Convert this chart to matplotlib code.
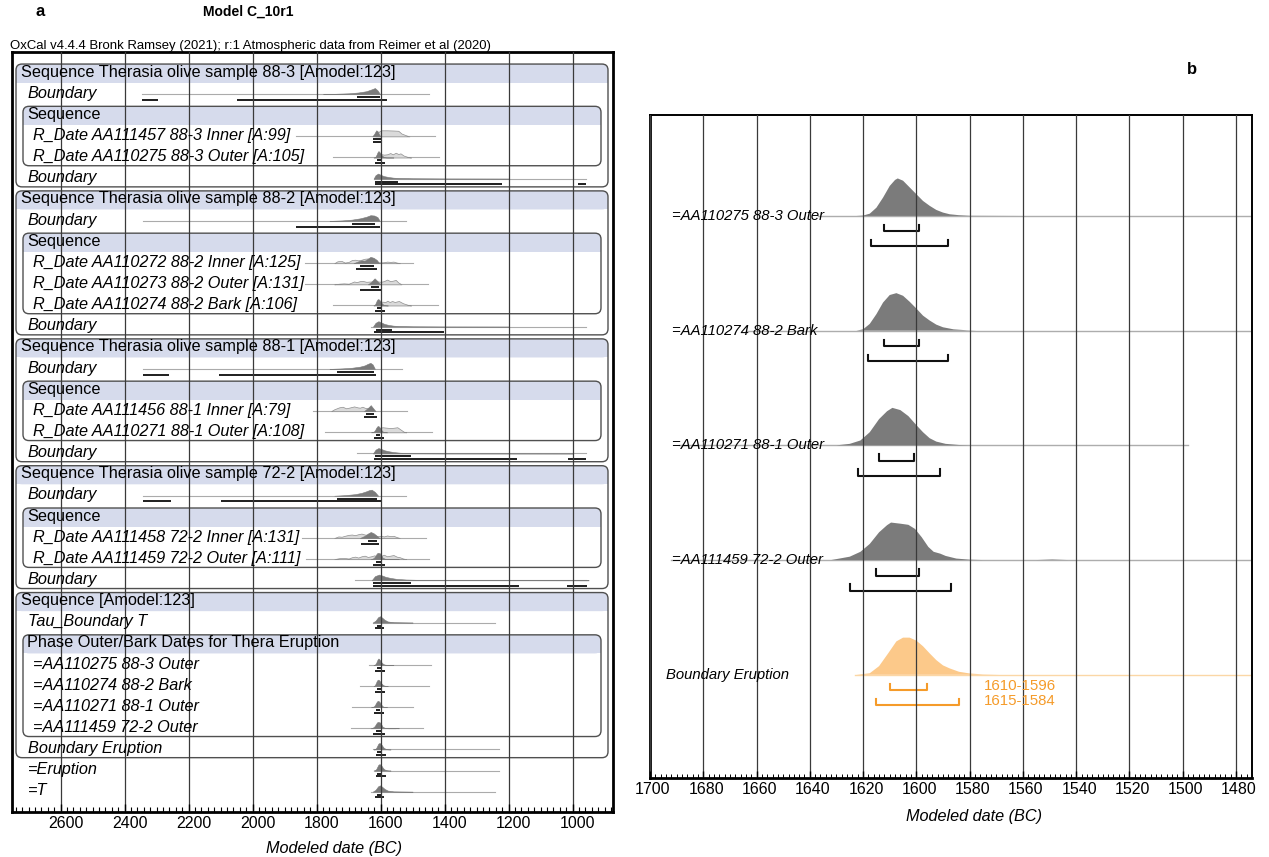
"""OxCal model C_10r1: Therasia olive sequences and the Thera eruption boundary."""
import matplotlib
matplotlib.use("Agg")
import matplotlib.pyplot as plt
import numpy as np
from matplotlib.patches import FancyBboxPatch, Rectangle
from matplotlib.ticker import MultipleLocator
from matplotlib.transforms import ScaledTranslation

plt.rcParams["font.family"] = ["Liberation Sans", "DejaVu Sans"]

# ---------------------------------------------------------------- data
# posterior densities (peak ~ 1), years BC
OUT_883_YR = [1622.5, 1620, 1617.5, 1615, 1612.5, 1610, 1608, 1607, 1605, 1602.5, 1600, 1597.5,
              1595, 1592.5, 1590, 1587.5, 1584, 1580, 1560]
OUT_883_P = [0, 0.01, 0.06, 0.22, 0.49, 0.80, 0.96, 1.0, 0.94, 0.76, 0.58, 0.40,
             0.27, 0.16, 0.09, 0.045, 0.02, 0.005, 0]
BARK_882_YR = [1622.5, 1620, 1617.5, 1615, 1612.5, 1610, 1607.5, 1605, 1602.5, 1600, 1597.5, 1595,
               1592.5, 1590, 1586, 1581, 1577.5]
BARK_882_P = [0, 0.035, 0.18, 0.44, 0.75, 0.95, 1.0, 0.93, 0.77, 0.59, 0.40, 0.27,
              0.16, 0.09, 0.035, 0.01, 0]
OUT_881_YR = [1630, 1625, 1621, 1617.5, 1614, 1611, 1609, 1606, 1603, 1600, 1597.5, 1595,
              1592.5, 1589, 1584, 1580]
OUT_881_P = [0, 0.04, 0.13, 0.35, 0.70, 0.91, 1.0, 0.94, 0.78, 0.54, 0.35, 0.19,
             0.10, 0.04, 0.01, 0]
OUT_722_YR = [1632, 1625, 1621, 1617.5, 1614, 1611, 1609.5, 1606, 1603, 1600.5, 1598, 1595.5,
              1593.5, 1591, 1589, 1585, 1580, 1575, 1555, 1549, 1543]
OUT_722_P = [0, 0.09, 0.22, 0.43, 0.74, 0.93, 1.0, 0.97, 0.94, 0.83, 0.61, 0.35,
             0.22, 0.17, 0.11, 0.04, 0.01, 0, 0, 0.015, 0]
ERUPT_YR = [1622.5, 1617.5, 1614, 1610.5, 1607.5, 1605, 1602.5, 1600, 1597.5, 1595, 1592.5,
            1590, 1587.5, 1584, 1580, 1575, 1569]
ERUPT_P = [0, 0.04, 0.23, 0.58, 0.89, 0.99, 0.99, 0.91, 0.76, 0.57, 0.39,
           0.25, 0.17, 0.08, 0.035, 0.01, 0]
TAU_T_YR = [1625, 1616, 1608, 1602, 1596, 1588, 1578, 1560, 1500]
TAU_T_P = [0, 0.3, 0.85, 1.0, 0.8, 0.45, 0.18, 0.05, 0]

ROW_LABELS = [
    "Sequence Therasia olive sample 88-3 [Amodel:123]", "Boundary", "Sequence",
    "R_Date AA111457 88-3 Inner [A:99]", "R_Date AA110275 88-3 Outer [A:105]", "Boundary",
    "Sequence Therasia olive sample 88-2 [Amodel:123]", "Boundary", "Sequence",
    "R_Date AA110272 88-2 Inner [A:125]", "R_Date AA110273 88-2 Outer [A:131]",
    "R_Date AA110274 88-2 Bark [A:106]", "Boundary",
    "Sequence Therasia olive sample 88-1 [Amodel:123]", "Boundary", "Sequence",
    "R_Date AA111456 88-1 Inner [A:79]", "R_Date AA110271 88-1 Outer [A:108]", "Boundary",
    "Sequence Therasia olive sample 72-2 [Amodel:123]", "Boundary", "Sequence",
    "R_Date AA111458 72-2 Inner [A:131]", "R_Date AA111459 72-2 Outer [A:111]", "Boundary",
    "Sequence [Amodel:123]", "Tau_Boundary T", "Phase Outer/Bark Dates for Thera Eruption",
    "=AA110275 88-3 Outer", "=AA110274 88-2 Bark", "=AA110271 88-1 Outer",
    "=AA111459 72-2 Outer", "Boundary Eruption", "=Eruption", "=T",
]
# (first row, last row, nesting level) of each Sequence / Phase box
GROUPS = [(0, 5, 1), (2, 4, 2), (6, 12, 1), (8, 11, 2), (13, 18, 1), (15, 17, 2),
          (19, 24, 1), (21, 23, 2), (25, 32, 1), (27, 31, 2)]

LINE_SPAN = {
    1: (2347, 1448), 3: (1865, 1431), 4: (1749, 1418), 5: (1621, 958),
    7: (2344, 1522), 9: (1835, 1498), 10: (1835, 1451), 11: (1748, 1420), 12: (1631, 958),
    14: (2344, 1532), 16: (1810, 1517), 17: (1773, 1439), 18: (1673, 958),
    20: (2343, 1522), 22: (1846, 1458), 23: (1834, 1448), 24: (1680, 959),
    26: (1625, 1243), 28: (1637, 1442), 29: (1664, 1448), 30: (1689, 1498), 31: (1692, 1467),
    32: (1623, 1230), 33: (1618, 1230), 34: (1631, 1243),
}
RANGE_68 = {
    1: [(1674, 1603)], 3: [(1623, 1600)], 4: [(1612, 1599)], 5: [(1619, 1546)],
    7: [(1690, 1618)], 9: [(1665, 1621)], 10: [(1631, 1605)], 11: [(1612, 1599)], 12: [(1616, 1564)],
    14: [(1735, 1621)], 16: [(1647, 1621)], 17: [(1614, 1601)], 18: [(1618, 1506)],
    20: [(1736, 1612)], 22: [(1639, 1612)], 23: [(1615, 1599)], 24: [(1625, 1505)],
    26: [(1612, 1598)], 28: [(1612, 1599)], 29: [(1612, 1599)], 30: [(1614, 1601)],
    31: [(1615, 1599)], 32: [(1610, 1596)], 33: [(1610, 1596)], 34: [(1612, 1598)],
}
RANGE_95 = {
    1: [(2347, 2295), (2048, 1579)], 3: [(1625, 1595)], 4: [(1617, 1588)],
    5: [(1619, 1221), (982, 958)], 7: [(1865, 1602)], 9: [(1678, 1610)], 10: [(1664, 1595)],
    11: [(1618, 1588)], 12: [(1621, 1403)], 14: [(2344, 2260), (2106, 1615)],
    16: [(1652, 1613)], 17: [(1622, 1591)], 18: [(1621, 1174), (1016, 958)],
    20: [(2343, 2255), (2098, 1598)], 22: [(1662, 1606)], 23: [(1625, 1587)],
    24: [(1625, 1169), (1018, 956)], 26: [(1618, 1590)], 28: [(1617, 1588)],
    29: [(1618, 1588)], 30: [(1622, 1591)], 31: [(1625, 1587)], 32: [(1615, 1584)],
    33: [(1615, 1584)], 34: [(1618, 1590)],
}
POSTERIOR = {
    1: ([1780, 1740, 1700, 1670, 1645, 1628, 1618, 1610, 1602],
        [0, 0.05, 0.12, 0.25, 0.45, 0.75, 0.95, 0.6, 0]),
    3: ([1626, 1620, 1614, 1610, 1606, 1601], [0, 0.4, 0.95, 0.85, 0.4, 0]),
    4: (OUT_883_YR, OUT_883_P),
    5: ([1622, 1616, 1608, 1600, 1590, 1575, 1560, 1540, 1500, 1400, 1200],
        [0, 0.55, 0.8, 0.6, 0.4, 0.25, 0.15, 0.09, 0.05, 0.02, 0]),
    7: ([1760, 1720, 1690, 1665, 1645, 1632, 1620, 1610, 1603],
        [0, 0.08, 0.2, 0.4, 0.65, 0.9, 0.85, 0.6, 0]),
    9: ([1685, 1672, 1660, 1650, 1640, 1632, 1622, 1612, 1605],
        [0, 0.25, 0.45, 0.4, 0.7, 1.0, 0.85, 0.5, 0]),
    10: ([1640, 1630, 1622, 1619, 1612, 1605, 1600], [0, 0.35, 0.8, 0.95, 0.6, 0.2, 0]),
    11: (BARK_882_YR, BARK_882_P),
    12: ([1624, 1616, 1607, 1598, 1588, 1575, 1560, 1540, 1500, 1400, 1200],
         [0, 0.6, 0.85, 0.65, 0.42, 0.26, 0.15, 0.08, 0.04, 0.015, 0]),
    14: ([1760, 1720, 1690, 1665, 1650, 1640, 1632, 1625, 1618],
         [0, 0.08, 0.18, 0.35, 0.55, 0.8, 0.95, 0.7, 0]),
    16: ([1652, 1645, 1638, 1631, 1624, 1616], [0, 0.3, 0.6, 0.95, 0.5, 0]),
    17: (OUT_881_YR, OUT_881_P),
    18: ([1624, 1616, 1607, 1598, 1588, 1575, 1560, 1540, 1520, 1480, 1400, 1200, 1000],
         [0, 0.6, 0.85, 0.7, 0.5, 0.35, 0.22, 0.12, 0.07, 0.04, 0.02, 0.01, 0]),
    20: ([1745, 1710, 1680, 1660, 1645, 1635, 1628, 1618, 1608],
         [0, 0.1, 0.25, 0.45, 0.7, 0.9, 0.95, 0.6, 0]),
    22: ([1665, 1650, 1640, 1631, 1622, 1612, 1604], [0, 0.35, 0.7, 0.95, 0.75, 0.35, 0]),
    23: (OUT_722_YR, OUT_722_P),
    24: ([1628, 1618, 1605, 1595, 1585, 1570, 1550, 1520, 1480, 1400, 1300, 1100, 950],
         [0, 0.65, 0.9, 0.75, 0.55, 0.38, 0.22, 0.12, 0.07, 0.04, 0.02, 0.01, 0]),
    26: (TAU_T_YR, TAU_T_P),
    28: (OUT_883_YR, OUT_883_P), 29: (BARK_882_YR, BARK_882_P),
    30: (OUT_881_YR, OUT_881_P), 31: (OUT_722_YR, OUT_722_P),
    32: (ERUPT_YR, ERUPT_P), 33: (ERUPT_YR, ERUPT_P), 34: (TAU_T_YR, TAU_T_P),
}
# unmodelled (calibrated only) likelihoods of the R_Dates
LIKELIHOOD = {
    3: ([1617, 1610, 1603, 1598, 1580, 1560, 1545, 1535, 1520, 1510],
        [0, 0.5, 0.85, 0.95, 0.95, 0.92, 0.88, 0.45, 0.15, 0]),
    4: ([1618, 1610, 1600, 1590, 1580, 1570, 1562, 1553, 1545, 1538, 1528, 1515, 1505],
        [0, 0.3, 0.55, 0.45, 0.5, 0.7, 0.5, 0.75, 0.55, 0.65, 0.3, 0.08, 0]),
    9: ([1745, 1735, 1722, 1712, 1700, 1690, 1680, 1670, 1660, 1650, 1640, 1630, 1620, 1610,
         1600, 1590, 1580, 1570, 1560, 1550, 1540],
        [0, 0.3, 0.35, 0.1, 0.2, 0.5, 0.55, 0.45, 0.55, 0.7, 0.75, 0.6, 0.3, 0.15,
         0.12, 0.15, 0.25, 0.2, 0.25, 0.1, 0]),
    10: ([1745, 1730, 1715, 1700, 1690, 1683, 1675, 1665, 1657, 1645, 1630, 1615, 1600, 1590,
          1580, 1570, 1560, 1553, 1545, 1535],
         [0, 0.1, 0.15, 0.1, 0.3, 0.45, 0.35, 0.5, 0.55, 0.4, 0.45, 0.5, 0.4, 0.5,
          0.75, 0.5, 0.6, 0.7, 0.3, 0]),
    11: ([1612, 1605, 1595, 1585, 1579, 1572, 1564, 1556, 1548, 1543, 1530, 1515, 1505],
         [0, 0.5, 0.6, 0.55, 0.75, 0.55, 0.7, 0.55, 0.65, 0.7, 0.35, 0.1, 0]),
    16: ([1755, 1745, 1730, 1719, 1708, 1695, 1683, 1672, 1665, 1657, 1648, 1640, 1632, 1625],
         [0, 0.3, 0.6, 0.7, 0.45, 0.6, 0.75, 0.6, 0.55, 0.7, 0.5, 0.45, 0.3, 0]),
    17: ([1612, 1603, 1595, 1585, 1575, 1563, 1555, 1548, 1538, 1528, 1520],
         [0, 0.6, 0.8, 0.75, 0.7, 0.7, 0.75, 0.8, 0.45, 0.1, 0]),
    22: ([1745, 1732, 1722, 1712, 1700, 1690, 1680, 1670, 1660, 1650, 1640, 1630, 1620, 1610,
          1600, 1590, 1580, 1570, 1560, 1550, 1540],
         [0, 0.25, 0.2, 0.35, 0.5, 0.55, 0.45, 0.6, 0.7, 0.55, 0.5, 0.6, 0.45, 0.3,
          0.35, 0.25, 0.4, 0.3, 0.35, 0.15, 0]),
    23: ([1745, 1730, 1715, 1700, 1690, 1680, 1670, 1660, 1650, 1640, 1630, 1620, 1610, 1600,
          1590, 1580, 1570, 1560, 1550, 1540, 1530, 1520],
         [0, 0.15, 0.2, 0.1, 0.3, 0.4, 0.25, 0.45, 0.55, 0.35, 0.45, 0.6, 0.45, 0.5,
          0.7, 0.45, 0.55, 0.65, 0.4, 0.3, 0.1, 0]),
}
PANEL_B_ROWS = [28, 29, 30, 31, 32]
ERUPTION_ROW = 32

# ---------------------------------------------------------------- style
W, H = 1269, 857
BAND = "#d6dbec"
DARK = "#7b7b7b"
LIGHT = "#dadada"
THIN = "#ababab"
ORANGE_FILL = "#fcc98a"
ORANGE = "#f59b2a"
GRID = "#3a3a3a"

fig = plt.figure(figsize=(W / 100, H / 100), dpi=100)


def px_axes(x0, y0, x1, y1):
    return fig.add_axes([x0 / W, 1 - y1 / H, (x1 - x0) / W, (y1 - y0) / H])


def shift_ticklabels(ax, dx_px):
    off = ScaledTranslation(dx_px / 100, 0, fig.dpi_scale_trans)
    for lbl in ax.get_xticklabels():
        lbl.set_transform(lbl.get_transform() + off)


def bracket(ax, lo, hi, y, tick, **kw):
    ax.plot([lo, lo, hi, hi], [y - tick, y, y, y - tick], **kw)


# ---------------------------------------------------------------- panel a
A_X0, A_X1, A_Y0, A_Y1 = 12, 613, 52, 812
axa = px_axes(A_X0, A_Y0, A_X1, A_Y1)
axa.set_xlim(2752, 874)
axa.set_ylim(35.0, -0.95)
row_px = (A_Y1 - A_Y0) / 35.95
a_w = A_X1 - A_X0
ytr = axa.get_yaxis_transform()
aspect = a_w / row_px


def fx(px):
    return (px - A_X0) / a_w


for first, last, level in GROUPS:
    x0, x1 = (fx(16), fx(608)) if level == 1 else (fx(23), fx(601))
    top, bot = first - 0.38, last + 0.43
    r = 6 / a_w
    style = f"round,pad=0,rounding_size={r}"
    axa.add_patch(FancyBboxPatch((x0, top), x1 - x0, bot - top, boxstyle=style,
                                 mutation_aspect=aspect, transform=ytr,
                                 facecolor="white", edgecolor="none", zorder=0.6))
    axa.add_patch(FancyBboxPatch((x0, top), x1 - x0, first + 0.5 - top, boxstyle=style,
                                 mutation_aspect=aspect, transform=ytr,
                                 facecolor=BAND, edgecolor="none", zorder=0.7))
    axa.add_patch(Rectangle((x0, first + 0.1), x1 - x0, 0.4, transform=ytr,
                            facecolor=BAND, edgecolor="none", zorder=0.7))
    axa.add_patch(FancyBboxPatch((x0, top), x1 - x0, bot - top, boxstyle=style,
                                 mutation_aspect=aspect, transform=ytr,
                                 facecolor="none", edgecolor="#505050", lw=1.0, zorder=0.8))

headers = {first: level for first, last, level in GROUPS}
for r, label in enumerate(ROW_LABELS):
    depth = sum(1 for f, l, _ in GROUPS if f <= r <= l)
    if r in headers:
        xpx = 21 if headers[r] == 1 else 27
        axa.text(fx(xpx), r, label, transform=ytr, fontsize=11.7, va="center", ha="left",
                 zorder=3)
    else:
        xpx = 33 if depth >= 2 else 28
        axa.text(fx(xpx), r, label, transform=ytr, fontsize=11.7, style="italic",
                 va="center", ha="left", zorder=3)

HA = 0.3
for r, (lo, hi) in LINE_SPAN.items():
    base = r + 0.04
    axa.plot([lo, hi], [base, base], color=THIN, lw=0.8, zorder=1.2)
for r, (yrs, dens) in LIKELIHOOD.items():
    base = r + 0.04
    axa.fill_between(yrs, base, base - np.asarray(dens) * HA, facecolor=LIGHT,
                     edgecolor="#8f8f8f", lw=0.5, zorder=1.3)
for r, (yrs, dens) in POSTERIOR.items():
    base = r + 0.04
    axa.fill_between(yrs, base, base - np.asarray(dens) * HA, facecolor=DARK,
                     edgecolor=DARK, lw=0.4, zorder=1.4)
for r, spans in RANGE_68.items():
    for lo, hi in spans:
        axa.plot([lo, hi], [r + 0.18, r + 0.18], color="#1e1e1e", lw=1.4,
                 solid_capstyle="butt", zorder=1.5)
for r, spans in RANGE_95.items():
    for lo, hi in spans:
        axa.plot([lo, hi], [r + 0.31, r + 0.31], color="#1e1e1e", lw=1.4,
                 solid_capstyle="butt", zorder=1.5)

axa.xaxis.set_major_locator(MultipleLocator(200))
axa.xaxis.set_minor_locator(MultipleLocator(20))
axa.set_xticks(np.arange(2600, 999, -200))
axa.set_yticks([])
axa.grid(axis="x", which="major", color=GRID, lw=0.9)
axa.set_axisbelow(False)
axa.tick_params(axis="x", which="major", direction="in", length=6, width=1, labelsize=11.5,
                pad=3, top=False)
axa.tick_params(axis="x", which="minor", direction="in", length=3.5, width=0.8, top=False)
for s in axa.spines.values():
    s.set_linewidth(2)
shift_ticklabels(axa, 5)

fig.text(40 / W, 1 - 12 / H, "a", fontsize=12, weight="bold", ha="center", va="center")
fig.text(248 / W, 1 - 12 / H, "Model C_10r1", fontsize=10, weight="bold",
         ha="center", va="center")
fig.text(10 / W, 1 - 46 / H,
         "OxCal v4.4.4 Bronk Ramsey (2021); r:1 Atmospheric data from Reimer et al (2020)",
         fontsize=9.45, ha="left", va="center")
fig.text(334 / W, 1 - 848 / H, "Modeled date (BC)", fontsize=11.7, style="italic",
         ha="center", va="center")

# ---------------------------------------------------------------- panel b
B_X0, B_X1, B_Y0, B_Y1 = 650, 1252, 115, 778
axb = px_axes(B_X0, B_Y0, B_X1, B_Y1)
axb.set_xlim(1700, 1474)
axb.set_ylim(4.9, -0.88)
b_row = (B_Y1 - B_Y0) / 5.78
HB = 37.5 / b_row
OFF68, OFF95, TICK = 15.5 / b_row, 30.5 / b_row, 6.5 / b_row
ytb = axb.get_yaxis_transform()

for k, r in enumerate(PANEL_B_ROWS):
    erupt = r == ERUPTION_ROW
    fill = ORANGE_FILL if erupt else DARK
    edge = ORANGE if erupt else "#111111"
    lo, hi = LINE_SPAN[r]
    axb.plot([lo, hi], [k, k], color=("#fbd7a6" if erupt else "#adadad"), lw=1.0, zorder=1.2)
    yrs, dens = POSTERIOR[r]
    axb.fill_between(yrs, k, k - np.asarray(dens) * HB, facecolor=fill, edgecolor="none",
                     zorder=1.4)
    for a, b in RANGE_68[r]:
        bracket(axb, a, b, k + OFF68, TICK, color=edge, lw=1.5, zorder=1.5)
    for a, b in RANGE_95[r]:
        bracket(axb, a, b, k + OFF95, TICK, color=edge, lw=1.5, zorder=1.5)
    xpx = 666 if erupt else 672
    axb.text((xpx - B_X0) / (B_X1 - B_X0), k, ROW_LABELS[r], transform=ytb, fontsize=10.7,
             style="italic", ha="left", va="center", zorder=3)
    if erupt:
        (a68, b68), = RANGE_68[r]
        (a95, b95), = RANGE_95[r]
        axb.text(1574.5, k + OFF68 - 0.04, f"{a68}-{b68}", color=ORANGE, fontsize=10.8,
                 ha="left", va="center", zorder=3)
        axb.text(1574.5, k + OFF95 - 0.04, f"{a95}-{b95}", color=ORANGE, fontsize=10.8,
                 ha="left", va="center", zorder=3)

axb.set_xticks(np.arange(1700, 1479, -20))
axb.xaxis.set_minor_locator(MultipleLocator(2))
axb.set_yticks([])
axb.grid(axis="x", which="major", color=GRID, lw=0.9)
axb.set_axisbelow(False)
axb.tick_params(axis="x", which="major", direction="in", length=5, width=1, labelsize=11.5,
                pad=3)
axb.tick_params(axis="x", which="minor", direction="in", length=3, width=0.7)
for name, s in axb.spines.items():
    s.set_linewidth(2 if name in ("left", "bottom") else 1.4)
shift_ticklabels(axb, 3)

fig.text(1192 / W, 1 - 70 / H, "b", fontsize=12, weight="bold", ha="center", va="center")
fig.text(974 / W, 1 - 816 / H, "Modeled date (BC)", fontsize=11.7, style="italic",
         ha="center", va="center")

fig.savefig("out.png", dpi=100)
